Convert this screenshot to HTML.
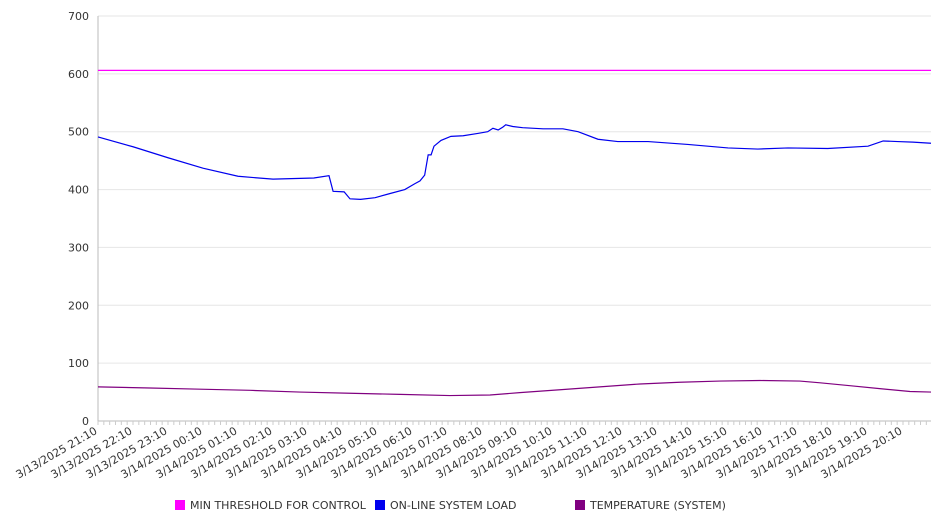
<!DOCTYPE html>
<html><head><meta charset="utf-8"><style>
body{margin:0;background:#fff;font-family:"DejaVu Sans","Liberation Sans",sans-serif;}
svg text{font-family:"DejaVu Sans","Liberation Sans",sans-serif;font-size:11px;fill:#333;}
</style></head><body>
<svg id="chart" width="946" height="526" xmlns="http://www.w3.org/2000/svg">
<g id="grid"></g>
<g id="yaxis"></g>
<g id="xaxis"></g>
<g id="series"></g>
<g>
<rect x="175" y="500" width="10" height="10" fill="#ff00ff"/>
<text x="190" y="509">MIN THRESHOLD FOR CONTROL</text>
<rect x="375" y="500" width="10" height="10" fill="#0000ee"/>
<text x="390" y="509">ON-LINE SYSTEM LOAD</text>
<rect x="575" y="500" width="10" height="10" fill="#800080"/>
<text x="590" y="509">TEMPERATURE (SYSTEM)</text>
</g>
</svg>
<script>
const yTicks=[0,100,200,300,400,500,600,700];
const xLabels=["3/13/2025 21:10","3/13/2025 22:10","3/13/2025 23:10","3/14/2025 00:10","3/14/2025 01:10","3/14/2025 02:10","3/14/2025 03:10","3/14/2025 04:10","3/14/2025 05:10","3/14/2025 06:10","3/14/2025 07:10","3/14/2025 08:10","3/14/2025 09:10","3/14/2025 10:10","3/14/2025 11:10","3/14/2025 12:10","3/14/2025 13:10","3/14/2025 14:10","3/14/2025 15:10","3/14/2025 16:10","3/14/2025 17:10","3/14/2025 18:10","3/14/2025 19:10","3/14/2025 20:10"];
const threshold=606;
const loadMinutes=[0,60,120,180,240,300,370,396,403,422,432,450,475,500,526,543,552,560,566,571,576,588,605,626,651,668,677,686,694,699,711,728,763,797,823,857,891,943,1011,1080,1131,1183,1251,1320,1346,1371,1397,1428];
const loadValues=[491,474,455,437,423,418,420,424,397,396,384,383,386,393,400,410,415,425,460,460,475,485,492,493,497,500,506,503,508,512,509,507,505,505,500,487,483,483,478,472,470,472,471,475,484,483,482,480];
const tempMinutes=[0,89,175,261,346,432,518,603,672,723,792,860,929,997,1066,1135,1203,1238,1289,1340,1392,1428];
const tempValues=[59,57,55,53,50,48,46,44,45,49,54,59,64,67,69,70,69,66,61,56,51,50];

const X0=98,X1=931,Y0=421,Y1=16,MAXM=1428;
const xs=m=>X0+m*(X1-X0)/MAXM;
const ys=v=>Y0-v*(Y0-Y1)/700;
const NS="http://www.w3.org/2000/svg";
function mk(tag,parent,attrs){const e=document.createElementNS(NS,tag);for(const k in attrs)e.setAttribute(k,attrs[k]);parent.appendChild(e);return e;}
const grid=document.getElementById('grid'),yax=document.getElementById('yaxis'),xax=document.getElementById('xaxis'),ser=document.getElementById('series');
yTicks.forEach(t=>{
  const l=mk('line',grid,{x1:X0,x2:X1,y1:ys(t),y2:ys(t),stroke:'#e6e6e6','stroke-width':1});
  
  
  const tx=mk('text',yax,{x:89,y:ys(t)+4,'text-anchor':'end'});
  tx.textContent=t;
  
  
});
const ax=mk('line',yax,{x1:X0,x2:X0,y1:Y1,y2:Y0,stroke:'#bbb'});


const bx=mk('line',xax,{x1:X0,x2:X1,y1:Y0,y2:Y0,stroke:'#bbb'});


for(let m=0;m<=MAXM;m+=10){
  const t=mk('line',xax,{x1:xs(m),x2:xs(m),y1:Y0,y2:Y0+4,stroke:'#ccc'});
  
  
}
xLabels.forEach((s,i)=>{
  const x=xs(i*60),y=Y0+12;
  const t=mk('text',xax,{x:x,y:y,'text-anchor':'end',transform:`rotate(-30 ${x} ${y})`});
  t.textContent=s;
  
  
});
const th=mk('line',ser,{x1:X0,x2:X1,y1:ys(threshold),y2:ys(threshold),stroke:'#ff00ff','stroke-width':1.2});


const lp=mk('polyline',ser,{points:loadMinutes.map((m,i)=>xs(m)+','+ys(loadValues[i])).join(' '),fill:'none',stroke:'#0000ee','stroke-width':1.2});


const tp=mk('polyline',ser,{points:tempMinutes.map((m,i)=>xs(m)+','+ys(tempValues[i])).join(' '),fill:'none',stroke:'#800080','stroke-width':1.2});


</script>
</body></html>
